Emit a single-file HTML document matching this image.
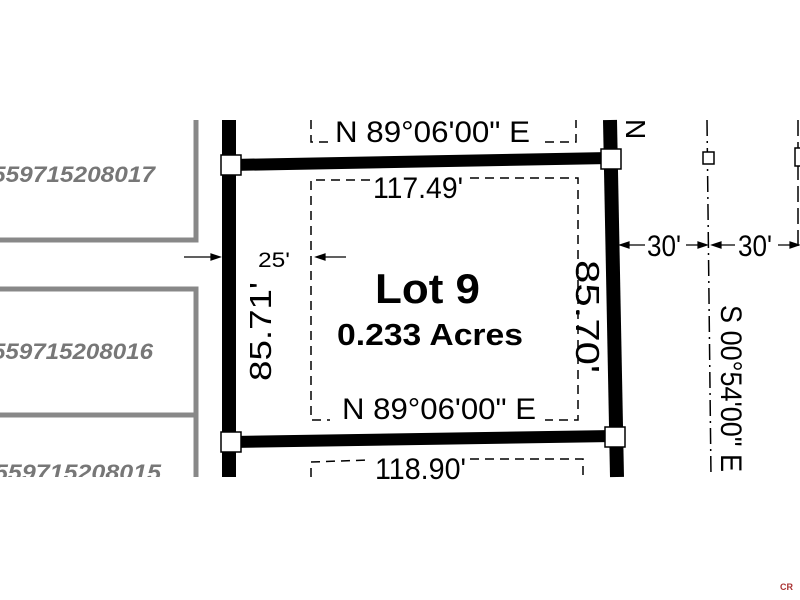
<!DOCTYPE html><html><head><style>body{margin:0;background:#fff}svg{display:block}</style></head><body>
<svg width="800" height="600" viewBox="0 0 800 600" font-family="Liberation Sans, sans-serif">
<rect width="800" height="600" fill="#fff"/>
<g stroke="#888" stroke-width="5" fill="none">
<polyline points="0,240 196,240 196,120"/>
<polyline points="0,289 196,289 196,415 0,415"/>
<line x1="196" y1="415" x2="196" y2="477"/>
</g>
<g fill="#777" font-style="italic" font-weight="bold" font-size="22">
<text x="-8" y="182" textLength="163" lengthAdjust="spacingAndGlyphs">559715208017</text>
<text x="-8" y="359" textLength="161" lengthAdjust="spacingAndGlyphs">559715208016</text>
<text x="-6" y="480" textLength="167" lengthAdjust="spacingAndGlyphs">559715208015</text>
</g>
<rect x="0" y="477" width="800" height="20" fill="#fff"/>
<g stroke="#000" stroke-width="1.5" fill="none" stroke-dasharray="9,6">
<polyline points="311,120 311,142 330,142"/>
<polyline points="545,142 576,142 576,120"/>
<polyline points="370,180 311,180 311,420 330,420"/>
<polyline points="470,178 578,178 578,420 545,420"/>
<polyline points="311,477 311,462 370,460"/>
<polyline points="470,459 583,459 583,477"/>
</g>
<g stroke="#000" stroke-width="1.5" fill="none" stroke-dasharray="16,5,2,5">
<line x1="707" y1="120" x2="711" y2="477"/>
</g>
<line x1="798" y1="120" x2="798" y2="250" stroke="#000" stroke-width="1.5" stroke-dasharray="16,6"/>
<g stroke="#000" stroke-width="14">
<line x1="229" y1="120" x2="229" y2="477"/>
<line x1="610" y1="120" x2="617" y2="477"/>
</g>
<g stroke="#000" stroke-width="12">
<line x1="231" y1="165" x2="610" y2="158"/>
<line x1="231" y1="442" x2="614" y2="436"/>
</g>
<g fill="#fff" stroke="#000" stroke-width="1.5">
<rect x="221" y="155" width="20" height="20"/>
<rect x="601" y="149" width="20" height="20"/>
<rect x="221" y="432" width="20" height="20"/>
<rect x="605" y="427" width="20" height="20"/>
<rect x="703" y="152" width="11" height="12"/>
<rect x="795" y="148" width="8" height="18"/>
</g>
<g stroke="#000" stroke-width="1.2" fill="#000">
<line x1="184" y1="257" x2="218" y2="257"/><path d="M220,257 l-9,-3 v6z"/>
<line x1="318" y1="257" x2="346" y2="257"/><path d="M316,257 l9,-3 v6z"/>
<line x1="622" y1="245" x2="645" y2="245"/><path d="M620,245 l9,-3 v6z"/>
<line x1="686" y1="245" x2="705" y2="245"/><path d="M707,245 l-9,-3 v6z"/>
<line x1="714" y1="245" x2="735" y2="245"/><path d="M712,245 l9,-3 v6z"/>
<line x1="778" y1="245" x2="797" y2="245"/><path d="M799,245 l-9,-3 v6z"/>
</g>
<g fill="#000" font-size="30">
<text x="335" y="142" textLength="195" lengthAdjust="spacingAndGlyphs">N 89°06'00" E</text>
<text x="373" y="198" textLength="90" lengthAdjust="spacingAndGlyphs">117.49'</text>
<text x="342" y="419" textLength="194" lengthAdjust="spacingAndGlyphs">N 89°06'00" E</text>
<text x="375" y="479" textLength="91" lengthAdjust="spacingAndGlyphs">118.90'</text>
<text x="258" y="267" font-size="21" textLength="32" lengthAdjust="spacingAndGlyphs">25'</text>
<text x="647" y="256" textLength="34" lengthAdjust="spacingAndGlyphs">30'</text>
<text x="738" y="256" textLength="34" lengthAdjust="spacingAndGlyphs">30'</text>
<text transform="translate(271,381) rotate(-90)" font-size="31" textLength="99" lengthAdjust="spacingAndGlyphs">85.71'</text>
<text transform="translate(576,260) rotate(90)" font-size="33" textLength="113" lengthAdjust="spacingAndGlyphs">85.70'</text>
<text transform="translate(721,305) rotate(90)" font-size="30" textLength="167" lengthAdjust="spacingAndGlyphs">S 00°54'00" E</text>
<text transform="translate(626,119) rotate(90)" font-size="28">N</text>
</g>
<text x="375" y="303" font-size="42" font-weight="bold" textLength="105" lengthAdjust="spacingAndGlyphs">Lot 9</text>
<text x="337" y="345" font-size="31" font-weight="bold" textLength="186" lengthAdjust="spacingAndGlyphs">0.233 Acres</text>
<text x="780" y="590" font-size="9" fill="#a33" font-weight="bold">CR</text>
</svg>
</body></html>
